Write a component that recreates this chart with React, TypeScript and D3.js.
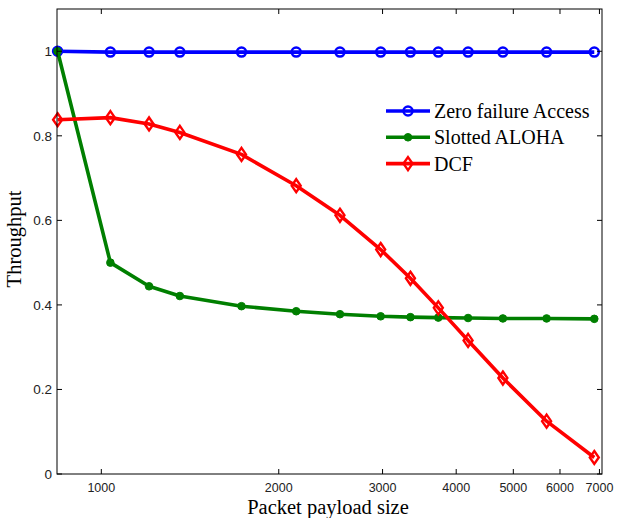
import React from "react";
import * as d3 from "d3";

const xValues = [843, 1036, 1205, 1359, 1729, 2141, 2540, 2978, 3345, 3730, 4190, 4800, 5694, 6860];
const zeroFailure = [1.0, 0.998, 0.998, 0.998, 0.998, 0.998, 0.998, 0.998, 0.998, 0.998, 0.998, 0.998, 0.998, 0.998];
const slottedAloha = [1.0, 0.5, 0.444, 0.421, 0.397, 0.385, 0.378, 0.373, 0.371, 0.37, 0.369, 0.368, 0.368, 0.367];
const dcf = [0.838, 0.843, 0.828, 0.808, 0.756, 0.682, 0.612, 0.531, 0.463, 0.393, 0.316, 0.227, 0.125, 0.039];
const xTicks = [1000, 2000, 3000, 4000, 5000, 6000, 7000];
const yTicks = [0, 0.2, 0.4, 0.6, 0.8, 1];
const seriesNames = ["Zero failure Access", "Slotted ALOHA", "DCF"];
const seriesColors = ["#0000ff", "#007f00", "#ff0000"];

const W = 618, H = 518;
const L = 57, R = 602, T = 9, B = 474;

export default function App() {
  const x = d3.scaleLog().domain([841, 7070]).range([L, R]);
  const y = d3.scaleLinear().domain([0, 1.1]).range([B, T]);
  const line = d3.line<[number, number]>().x(d => x(d[0])).y(d => y(d[1]));
  const data = [zeroFailure, slottedAloha, dcf];
  const tl = 5;
  const sans = "Liberation Sans, Arial, sans-serif";
  const serif = "Liberation Serif, Times New Roman, serif";

  const marker = (i: number, cx: number, cy: number, key: string) => {
    const c = seriesColors[i];
    if (i === 0) return <circle key={key} cx={cx} cy={cy} r={4.5} fill="none" stroke={c} strokeWidth={2.5} />;
    if (i === 1) return <circle key={key} cx={cx} cy={cy} r={3.8} fill={c} stroke={c} strokeWidth={1} />;
    return <path key={key} d={`M${cx},${cy - 6.5}L${cx + 4.5},${cy}L${cx},${cy + 6.5}L${cx - 4.5},${cy}Z`} fill="none" stroke={c} strokeWidth={2.4} />;
  };

  return (
    <svg width={W} height={H} style={{ position: "absolute", left: 0, top: 0, background: "#fff" }}>
      <rect x={0} y={0} width={W} height={H} fill="#fff" />
      {data.map((s, i) => (
        <g key={i}>
          <path d={line(xValues.map((xv, j) => [xv, s[j]]) as [number, number][]) || ""} fill="none" stroke={seriesColors[i]} strokeWidth={3.6} strokeLinejoin="round" />
          {xValues.map((xv, j) => marker(i, x(xv), y(s[j]), `${i}-${j}`))}
        </g>
      ))}
      <rect x={L} y={T} width={R - L} height={B - T} fill="none" stroke="#000" strokeWidth={1} />
      {xTicks.map(t => (
        <g key={t}>
          <line x1={x(t)} x2={x(t)} y1={B} y2={B - tl} stroke="#000" />
          <line x1={x(t)} x2={x(t)} y1={T} y2={T + tl} stroke="#000" />
          <text x={x(t)} y={B + 18} textAnchor="middle" fontFamily={sans} fontSize={12.5} fill="#222">{t}</text>
        </g>
      ))}
      {yTicks.map(t => (
        <g key={t}>
          <line x1={L} x2={L + tl} y1={y(t)} y2={y(t)} stroke="#000" />
          <line x1={R} x2={R - tl} y1={y(t)} y2={y(t)} stroke="#000" />
          <text x={L - 5} y={y(t) + 5} textAnchor="end" fontFamily={sans} fontSize={13.5} fill="#222">{t}</text>
        </g>
      ))}
      <text x={328} y={514} textAnchor="middle" fontFamily={serif} fontSize={20.5} fill="#000">Packet payload size</text>
      <text transform={`translate(21,${239}) rotate(-90)`} textAnchor="middle" fontFamily={serif} fontSize={20.5} fill="#000">Throughput</text>
      {seriesNames.map((n, i) => {
        const ly = 111 + i * 26.3;
        return (
          <g key={n}>
            <line x1={386} x2={430} y1={ly} y2={ly} stroke={seriesColors[i]} strokeWidth={3.6} />
            {marker(i, 408, ly, `lg${i}`)}
            <text x={434} y={ly + 7} fontFamily={serif} fontSize={20} fill="#000">{n}</text>
          </g>
        );
      })}
    </svg>
  );
}
